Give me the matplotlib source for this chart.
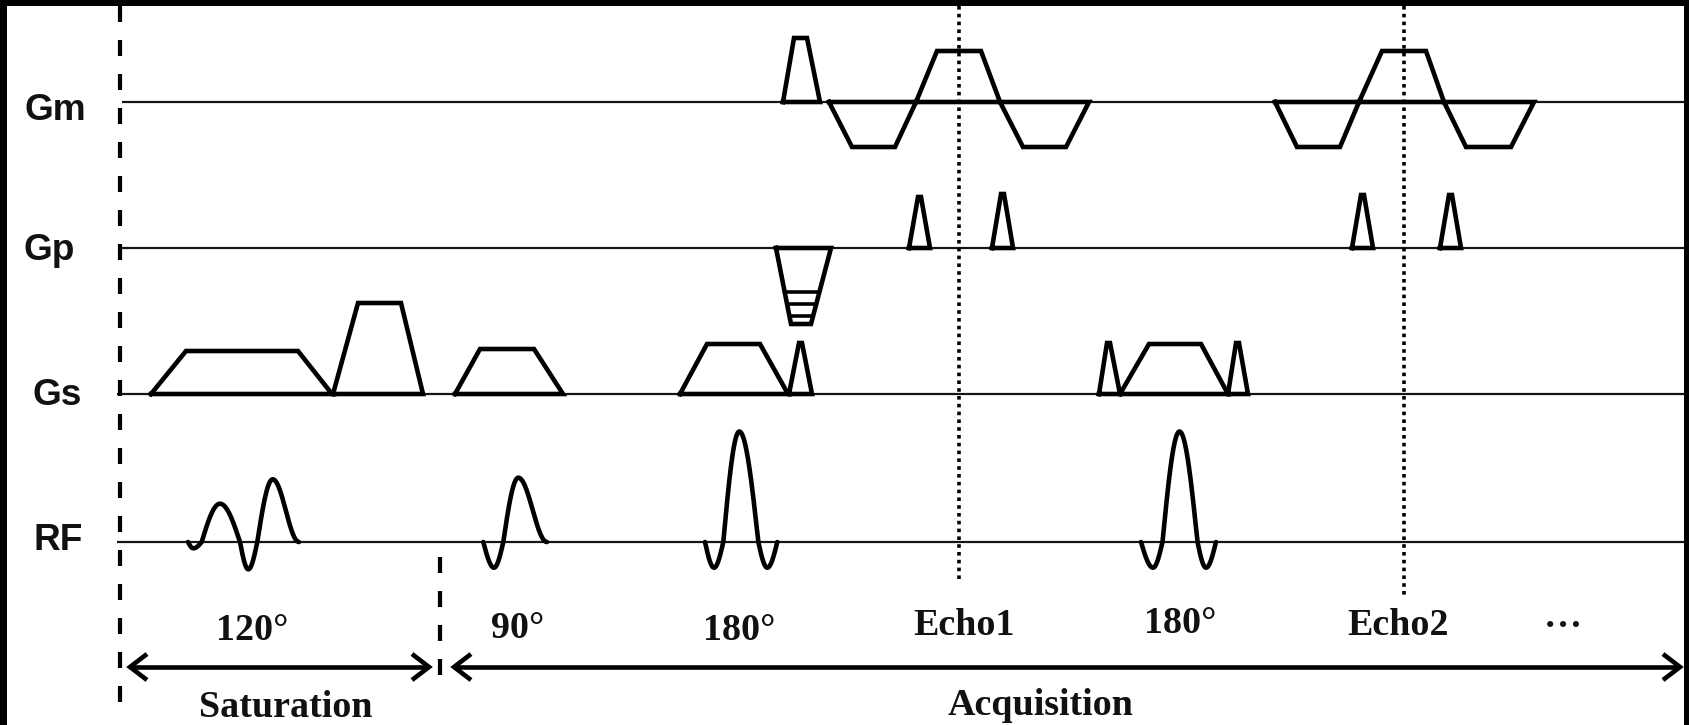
import numpy as np
import matplotlib
matplotlib.use("Agg")
import matplotlib.pyplot as plt

W, H, DPI = 1689, 725, 100
PX = 72 / DPI  # points per pixel

# ---- channel rows -------------------------------------------------------
rows = ["Gm", "Gp", "Gs", "RF"]
row_level = [102, 248, 394, 542]
row_start = [122, 122, 117, 117]
label_left = [25, 24, 32, 34]
label_baseline = [120, 260, 405, 550]

# ---- gradient lobes: (start, flat start, flat end, end, amplitude) ------
gm_lobes = [
    (783, 794, 807, 820, 64),        # crusher
    (829, 852, 895, 916, -45),       # readout, echo 1
    (916, 937, 981, 1000, 51),
    (1000, 1023, 1066, 1089, -45),
    (1275, 1297, 1340, 1359, -45),   # readout, echo 2
    (1359, 1382, 1426, 1444, 51),
    (1444, 1466, 1511, 1534, -45),
]
gp_blips = [
    (909, 918, 921, 930, 51),
    (992, 1001, 1004, 1013, 54),
    (1352, 1361, 1364, 1373, 53),
    (1440, 1449, 1452, 1461, 53),
]
gp_table = (776, 791, 811, 831, -76)
gp_table_steps = [44, 56, 68]
gs_lobes = [
    (151, 186, 298, 332, 43),        # saturation slice select
    (333, 358, 401, 423, 91),        # spoiler
    (455, 480, 534, 563, 45),        # 90 deg slice select
    (680, 707, 760, 788, 50),        # 180 deg slice select
    (789, 799, 802, 812, 51),        # crusher
    (1099, 1107, 1110, 1120, 51),    # crusher
    (1120, 1149, 1201, 1228, 50),    # 180 deg slice select
    (1228, 1236, 1239, 1248, 51),    # crusher
]

# ---- RF pulses: lobes (start, peak, end, amplitude, left power, right power)
rf_pulses = [
    [(188, 193.3, 201.7, -6.3, 1, 1), (201.7, 220, 240, 38.3, 1, 1),
     (240, 248.3, 257.3, -27.3, 1, 1), (257.3, 272.7, 299, 62.7, 1, 2)],
    [(483.3, 494, 503.3, -25.7, 1, 1), (503.3, 518.3, 547, 64.3, 1, 2)],
    [(705, 714, 723.3, -25.7, 1, 1), (723.3, 739.3, 758.3, 110.5, 1, 1),
     (758.3, 767.3, 777.3, -25.7, 1, 1)],
    [(1141, 1153, 1162.5, -25.7, 1, 1), (1162.5, 1179.5, 1197.5, 110.5, 1, 1),
     (1197.5, 1206, 1216, -25.7, 1, 1)],
]

# ---- annotations --------------------------------------------------------
pulse_names = ["120°", "90°", "180°", "Echo1", "180°", "Echo2"]
pulse_name_x = [252, 518, 739, 964, 1180, 1398]
pulse_name_y = [640, 638, 640, 635, 633, 635]
more_x, more_y = 1563, 627

echo_x = [959, 1404]
echo_bottom = [583, 595]

phase_names = ["Saturation", "Acquisition"]
phase_name_x = [286, 1041]
phase_name_y = [717, 715]
phase_span = [(130, 429), (454, 1680)]
arrow_y = 667

sat_marker = (120, 6, 716)     # x, top, bottom
acq_marker = (440, 557, 680)

# ---- figure -------------------------------------------------------------
plt.rcParams["lines.scale_dashes"] = False
fig = plt.figure(figsize=(W / DPI, H / DPI), dpi=DPI, facecolor="black")
ax = fig.add_axes([7 / W, 0, (W - 12) / W, (H - 6) / H])
ax.set_facecolor("white")
ax.set_xlim(7, W - 5)
ax.set_ylim(H, 6)
ax.set_xticks([])
ax.set_yticks([])
for s in ax.spines.values():
    s.set_visible(False)

LW_THICK = 4.6 * PX
LW_BASE = 2.2 * PX
INK = "black"

level = dict(zip(rows, row_level))

# baselines and channel names
for name, y0, x0, lx, ly in zip(rows, row_level, row_start, label_left, label_baseline):
    ax.plot([x0, W], [y0, y0], color="#151515", lw=LW_BASE, solid_capstyle="butt", zorder=2)
    ax.text(lx, ly, name, family="Liberation Sans", weight="bold",
            fontsize=37 * PX, ha="left", va="baseline", color="#111111")


def trapezoid(row, lobe):
    t0, t1, t2, t3, amp = lobe
    y0 = level[row]
    xs = [t0, t1, t2, t3, t0]
    ys = [y0, y0 - amp, y0 - amp, y0, y0]
    ax.plot(xs, ys, color=INK, lw=LW_THICK, solid_joinstyle="miter", zorder=3)


for lobe in gm_lobes:
    trapezoid("Gm", lobe)
for lobe in gp_blips:
    trapezoid("Gp", lobe)
for lobe in gs_lobes:
    trapezoid("Gs", lobe)

# phase-encode table
trapezoid("Gp", gp_table)
t0, t1, t2, t3, amp = gp_table
y0 = level["Gp"]
for d in gp_table_steps:
    f = d / abs(amp)
    ax.plot([t0 + (t1 - t0) * f, t3 - (t3 - t2) * f], [y0 + d, y0 + d],
            color=INK, lw=3.6 * PX, solid_capstyle="butt", zorder=3)


# RF waveforms
def rf_curve(lobes):
    xs, ys = [], []
    for x0, xp, x1, amp, pl, pr in lobes:
        a = np.linspace(x0, xp, 40)
        b = np.linspace(xp, x1, 50)[1:]
        ya = amp * np.sin(0.5 * np.pi * (a - x0) / (xp - x0)) ** pl
        yb = amp * np.cos(0.5 * np.pi * (b - xp) / (x1 - xp)) ** pr
        xs.extend(a); ys.extend(ya)
        xs.extend(b); ys.extend(yb)
    return np.array(xs), np.array(ys)


for lobes in rf_pulses:
    xs, amp = rf_curve(lobes)
    ax.plot(xs, level["RF"] - amp, color=INK, lw=LW_THICK,
            solid_joinstyle="round", solid_capstyle="round", zorder=3)

# echo centres
for ex, eb in zip(echo_x, echo_bottom):
    ax.plot([ex, ex], [6, eb], color=INK, lw=3.6 * PX,
            linestyle=(0, (3.6 * PX, 4.2 * PX)), dash_capstyle="butt", zorder=4)

# saturation / acquisition boundaries
for mx, top, bottom in (sat_marker, acq_marker):
    ax.plot([mx, mx], [top, bottom], color=INK, lw=4.2 * PX,
            linestyle=(0, (16 * PX, 18 * PX)), dash_capstyle="butt", zorder=4)

# span arrows
HEAD_L, HEAD_W = 17, 13
for x0, x1 in phase_span:
    ax.plot([x0 + 2, x1 - 2], [arrow_y, arrow_y], color=INK, lw=LW_THICK,
            solid_capstyle="butt", zorder=4)
    ax.plot([x0 + HEAD_L, x0, x0 + HEAD_L], [arrow_y - HEAD_W, arrow_y, arrow_y + HEAD_W],
            color=INK, lw=LW_THICK, solid_joinstyle="miter", solid_capstyle="butt", zorder=4)
    ax.plot([x1 - HEAD_L, x1, x1 - HEAD_L], [arrow_y - HEAD_W, arrow_y, arrow_y + HEAD_W],
            color=INK, lw=LW_THICK, solid_joinstyle="miter", solid_capstyle="butt", zorder=4)

# text
serif = dict(family="Liberation Serif", weight="bold", fontsize=38 * PX,
             ha="center", va="baseline", color="#111111")
for s, x, y in zip(pulse_names, pulse_name_x, pulse_name_y):
    ax.text(x, y, s, **serif)
ax.text(more_x, more_y, "…", **serif)
for s, x, y in zip(phase_names, phase_name_x, phase_name_y):
    ax.text(x, y, s, **serif)

fig.savefig("out.png", dpi=DPI, facecolor=fig.get_facecolor())
